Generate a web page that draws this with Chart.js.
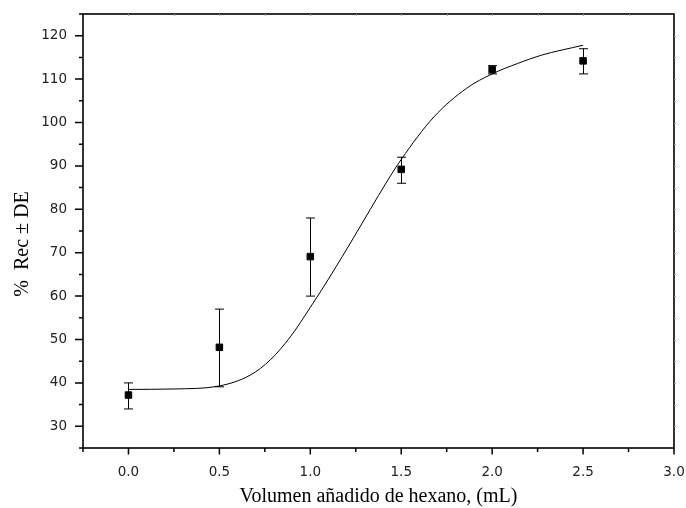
<!DOCTYPE html>
<html>
<head>
<meta charset="utf-8">
<script src="https://cdn.jsdelivr.net/npm/chart.js@4/dist/chart.umd.min.js"></script>
<style>
  body { margin: 0; background: #fff; }
  #wrap { width: 686px; height: 508px; }
</style>
</head>
<body>
<div id="wrap"><canvas id="recChart" width="686" height="508"></canvas></div>
<script>
// measured points (mean and error bar ends)
const hexaneVol = [0.0, 0.5, 1.0, 1.5, 2.0, 2.5];
const recMean  = [37.2, 48.2, 69.1, 89.2, 112.2, 114.2];
const errLow   = [34.0, 39.1, 60.0, 86.0, 111.2, 111.2];
const errHigh  = [40.0, 57.0, 78.0, 92.0, 113.1, 117.0];

// fitted curve
const fitX = [0.0, 0.25, 0.5, 0.67, 0.78, 0.89, 1.0, 1.11, 1.24, 1.42, 1.5, 1.68, 1.86, 2.0, 2.14, 2.27, 2.5];
const fitY = [38.5, 38.6, 39.3, 41.8, 45.3, 50.6, 57.4, 64.6, 73.6, 86.3, 91.5, 101.3, 107.9, 111.2, 113.6, 115.5, 117.8];

// tick labels
const xTicks = [0.0, 0.5, 1.0, 1.5, 2.0, 2.5, 3.0];
const yTicks = [30, 40, 50, 60, 70, 80, 90, 100, 110, 120];

const xTitle = 'Volumen añadido de hexano, (mL)';
const yTitle = '%  Rec ± DE';

function noPad(s) {
  s.paddingTop = 0; s.paddingBottom = 0;
  s.paddingLeft = 0; s.paddingRight = 0;
}

const axisPlugin = {
  id: 'axisDecor',
  beforeDatasetsDraw(chart) {
    const ctx = chart.ctx;
    const xs = chart.scales.x, ys = chart.scales.y;
    ctx.save();
    ctx.strokeStyle = '#000';
    ctx.lineWidth = 1;
    hexaneVol.forEach((v, i) => {
      const px = Math.round(xs.getPixelForValue(v)) + 0.5;
      const lo = ys.getPixelForValue(errLow[i]);
      const hi = ys.getPixelForValue(errHigh[i]);
      ctx.beginPath();
      ctx.moveTo(px, lo); ctx.lineTo(px, hi);
      ctx.moveTo(px - 4.5, lo); ctx.lineTo(px + 4.5, lo);
      ctx.moveTo(px - 4.5, hi); ctx.lineTo(px + 4.5, hi);
      ctx.stroke();
    });
    ctx.restore();
  },
  afterDraw(chart) {
    const ctx = chart.ctx;
    const a = chart.chartArea;
    const xs = chart.scales.x, ys = chart.scales.y;
    ctx.save();
    // frame
    ctx.strokeStyle = '#000';
    ctx.lineWidth = 1.6;
    ctx.strokeRect(a.left, a.top, a.right - a.left, a.bottom - a.top);

    // bottom ticks (major 0.5, minor 0.25)
    ctx.lineWidth = 1.5;
    ctx.beginPath();
    for (let v = -0.25; v <= 3.001; v += 0.25) {
      const px = xs.getPixelForValue(v);
      const major = Math.abs(v / 0.5 - Math.round(v / 0.5)) < 0.01;
      ctx.moveTo(px, a.bottom);
      ctx.lineTo(px, a.bottom + (major ? 6.5 : 4));
    }
    // left ticks (major 10, minor 5)
    for (let v = 25; v <= 125; v += 5) {
      const py = ys.getPixelForValue(v);
      const major = v % 10 === 0;
      ctx.moveTo(a.left, py);
      ctx.lineTo(a.left - (major ? 8 : 4), py);
    }
    ctx.stroke();

    // faint ticks on top and right edges
    ctx.strokeStyle = '#999';
    ctx.lineWidth = 1;
    ctx.beginPath();
    for (let v = 0; v < 3; v += 0.25) {
      const px = Math.round(xs.getPixelForValue(v)) + 0.5;
      ctx.moveTo(px, a.top); ctx.lineTo(px, a.top + 2);
    }
    for (let v = 30; v <= 120; v += 5) {
      const py = Math.round(ys.getPixelForValue(v)) + 0.5;
      ctx.moveTo(a.right, py); ctx.lineTo(a.right + 2, py);
    }
    ctx.stroke();

    // axis titles
    ctx.fillStyle = '#000';
    ctx.font = '20px "Liberation Serif", "Times New Roman", serif';
    ctx.textAlign = 'center';
    ctx.textBaseline = 'middle';
    ctx.fillText(xTitle, (a.left + a.right) / 2, 497);
    ctx.translate(23, 244);
    ctx.rotate(-Math.PI / 2);
    ctx.fillText(yTitle, 0, 0);
    ctx.restore();
  }
};

new Chart(document.getElementById('recChart'), {
  type: 'scatter',
  data: {
    datasets: [
      {
        label: 'fit',
        data: fitX.map((x, i) => ({ x: x, y: fitY[i] })),
        showLine: true,
        borderColor: '#000',
        borderWidth: 1,
        pointRadius: 0,
        cubicInterpolationMode: 'monotone'
      },
      {
        label: '% Rec',
        data: hexaneVol.map((x, i) => ({ x: x, y: recMean[i] })),
        pointStyle: 'rect',
        pointRadius: 4.6,
        pointBackgroundColor: '#000',
        pointBorderColor: '#000',
        pointBorderWidth: 1
      }
    ]
  },
  options: {
    responsive: false,
    animation: false,
    layout: { padding: { left: 0, top: 14, right: 12, bottom: 0 } },
    plugins: { legend: { display: false }, tooltip: { enabled: false } },
    scales: {
      x: {
        type: 'linear',
        min: -0.25,
        max: 3.0,
        afterBuildTicks: s => { s.ticks = xTicks.map(v => ({ value: v })); },
        afterFit: s => { s.height = 60; noPad(s); },
        grid: { display: false, drawTicks: false },
        border: { display: false },
        ticks: {
          padding: 16,
          maxRotation: 0,
          color: '#222',
          font: { family: '"DejaVu Sans", Verdana, sans-serif', size: 13.5 },
          callback: v => Number(v).toFixed(1)
        }
      },
      y: {
        type: 'linear',
        min: 25,
        max: 125,
        afterBuildTicks: s => { s.ticks = yTicks.map(v => ({ value: v })); },
        afterFit: s => { s.width = 83; noPad(s); },
        grid: { display: false, drawTicks: false },
        border: { display: false },
        ticks: {
          padding: 16,
          color: '#222',
          font: { family: '"DejaVu Sans", Verdana, sans-serif', size: 13.5 }
        }
      }
    }
  },
  plugins: [axisPlugin]
});
</script>
</body>
</html>
